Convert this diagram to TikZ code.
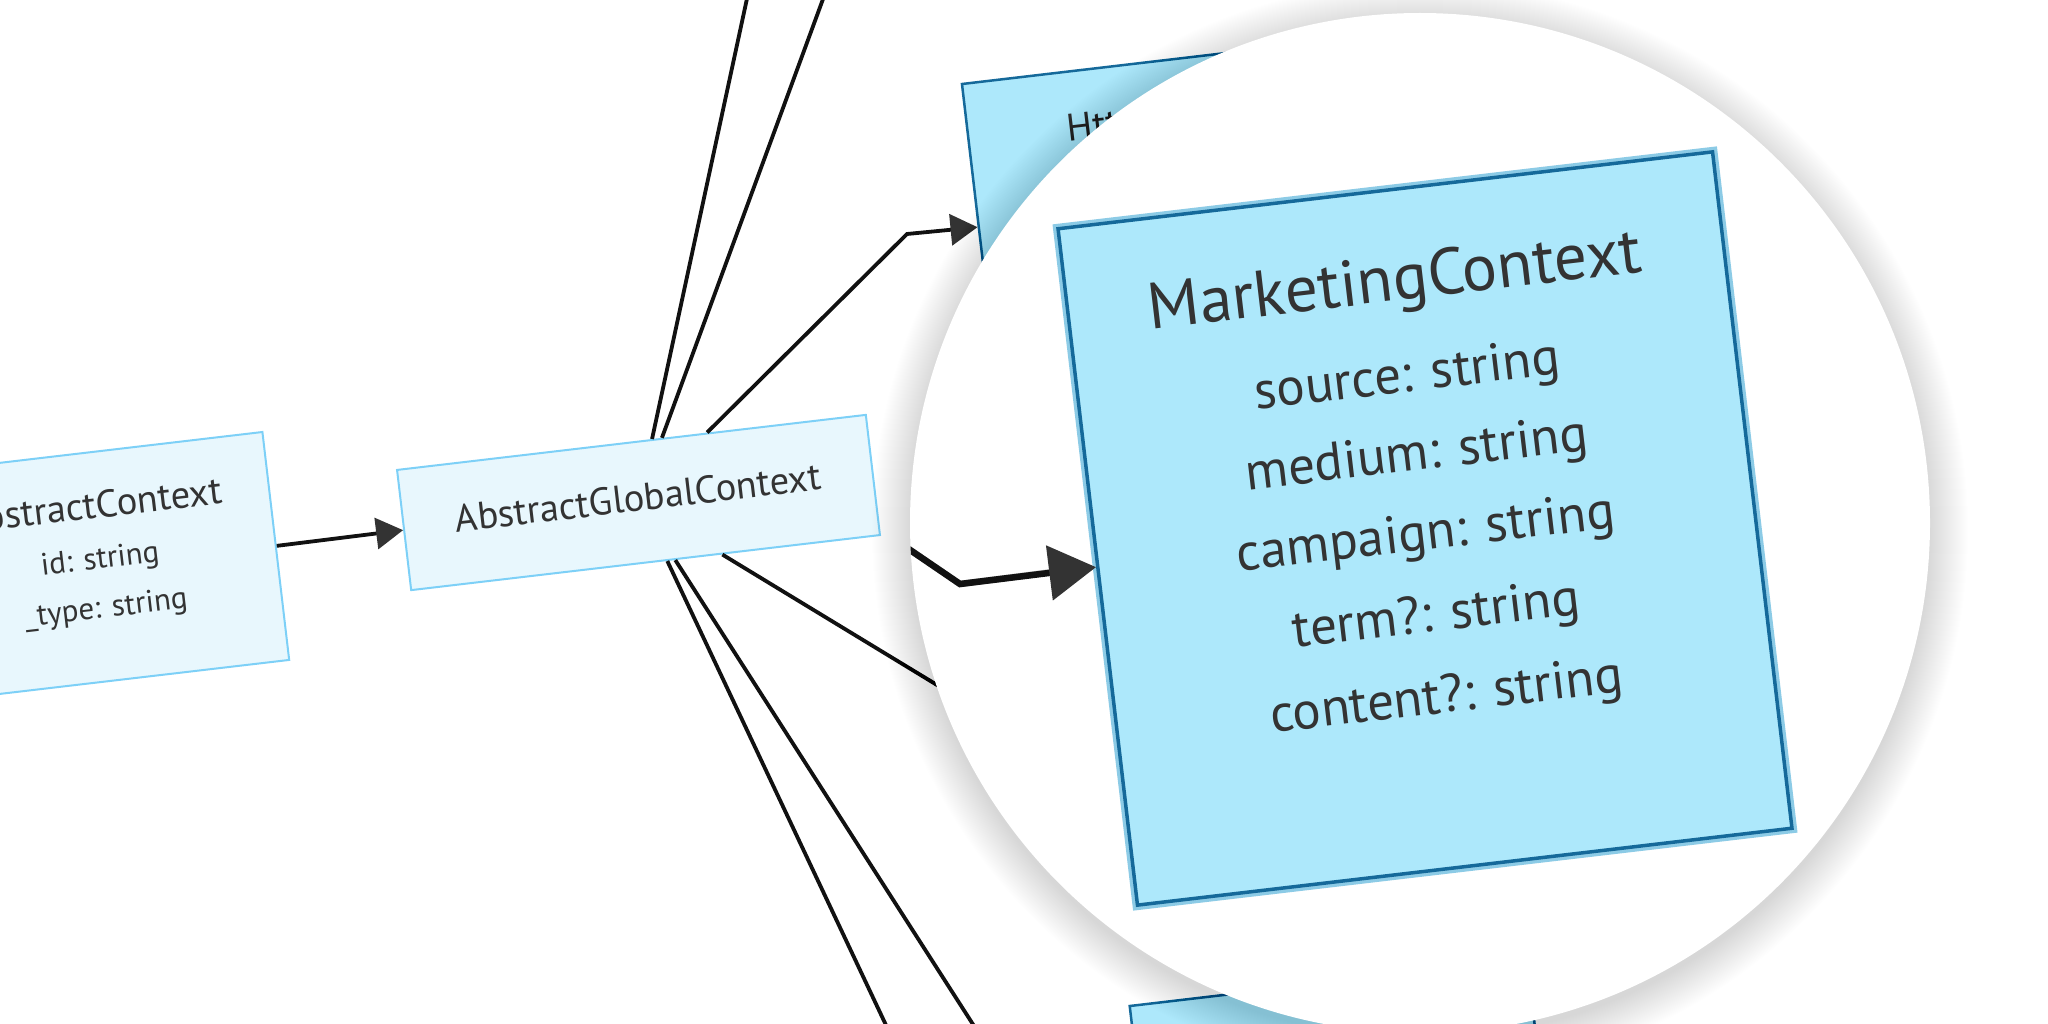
\documentclass[tikz,border=0pt]{standalone}
\usepackage{fontspec}
\setmainfont{PT Sans}
\usetikzlibrary{arrows.meta,calc}
\definecolor{txt}{HTML}{333333}
\definecolor{paleFill}{HTML}{E8F7FD}
\definecolor{paleLine}{HTML}{7DD0F7}
\definecolor{hiFill}{HTML}{ADE8FB}
\definecolor{hiLine}{HTML}{15699A}
\definecolor{hiGlow}{HTML}{8CCBE6}
\definecolor{tipgray}{HTML}{333333}
\definecolor{linecol}{HTML}{111111}
\tikzset{
  palebox/.style={draw=paleLine, fill=paleFill, line width=2pt, rectangle, inner sep=0pt},
  hibox/.style={draw=hiLine, fill=hiFill, line width=2.5pt, rectangle, inner sep=0pt},
  bighibox/.style={draw=hiLine, fill=hiFill, line width=3.5pt, rectangle, inner sep=0pt},
  ttl/.style={text=txt, inner sep=0pt, font=\fontsize{38.5}{46}\selectfont},
  fld/.style={text=txt, inner sep=0pt, font=\fontsize{31}{37}\selectfont},
  bigttl/.style={text=txt, inner sep=0pt, font=\fontsize{65.5}{78}\selectfont},
  bigfld/.style={text=txt, inner sep=0pt, font=\fontsize{53}{64}\selectfont},
  conn/.style={draw=linecol, line width=3.8pt},
  smalltip/.style={-{Triangle[length=27pt,width=31pt,color=tipgray]}},
  bigconn/.style={draw=linecol, line width=6.5pt, line join=miter},
  bigtip/.style={-{Triangle[length=47pt,width=54pt,color=tipgray]}},
}
\begin{document}
\begin{tikzpicture}[x=1pt,y=-1pt]
\useasboundingbox (0,0) rectangle (2048,1024);
\clip (0,0) rectangle (2048,1024);
\fill[white] (0,0) rectangle (2048,1024);

% ---------- base diagram ----------
\begin{scope}[shift={(101,566.5)}, rotate=6.7, transform shape]
  \node[palebox, minimum width=352pt, minimum height=229.5pt] (ac) at (0,0) {};
  \node[ttl] (actitle) at (-2,-62) {AbstractContext};
  \node[fld] (acid) at (0,-6) {id: string};
  \node[fld] (actype) at (0,43.5) {\_type: string};
\end{scope}

\begin{scope}[shift={(638.5,502.5)}, rotate=6.7, transform shape]
  \node[palebox, minimum width=472pt, minimum height=121pt] (agc) at (0,0) {};
  \node[ttl] (agctitle) at (0,-5) {AbstractGlobalContext};
\end{scope}

\begin{scope}[shift={(1177.4,203.7)}, rotate=6.7, transform shape]
  \node[hibox, minimum width=400pt, minimum height=288pt] (http) at (0,0) {};
  \node[ttl, anchor=west] (httptitle) at (-100.8,-88.1) {Htt};
\end{scope}

\begin{scope}[shift={(1340,1082)}, rotate=6.7, transform shape]
  \node[hibox, minimum width=400pt, minimum height=200pt] (lowbox) at (0,0) {};
\end{scope}

\coordinate (upA) at (751,-20);
\coordinate (upB) at (830,-20);
\coordinate (httpbend) at (907,234);
\coordinate (downA) at (893,1040);
\coordinate (downB) at (983,1040);
\coordinate (hiddenend) at (1100,784);

\draw[conn, smalltip] (ac.east) -- (agc.west);
\draw[conn] ($(agc.north west)!0.544!(agc.north east)$) -- (upA);
\draw[conn] ($(agc.north west)!0.565!(agc.north east)$) -- (upB);
\draw[conn, smalltip] ($(agc.north west)!0.661!(agc.north east)$) -- (httpbend) -- (http.west);
\draw[conn] ($(agc.south west)!0.546!(agc.south east)$) -- (downA);
\draw[conn] ($(agc.south west)!0.563!(agc.south east)$) -- (downB);
\draw[conn] ($(agc.south west)!0.663!(agc.south east)$) -- (hiddenend);

% ---------- magnifier ----------
\foreach \k in {1,...,40} {
  \pgfmathsetmacro{\rr}{508+\k}
  \fill[black, opacity=0.0032] (1420,530) circle[radius=\rr pt];
}
\fill[white] (1420,523) circle[radius=510pt];

\begin{scope}
  \clip (1420,523) circle[radius=510pt];
  \begin{scope}[shift={(1425,528.5)}, rotate=6.7, transform shape]
    \node[draw=hiGlow, line width=8pt, minimum width=661pt, minimum height=683pt, inner sep=0pt] (mkglow) at (0,0) {};
    \node[bighibox, minimum width=659pt, minimum height=681pt] (mk) at (0,0) {};
    \node[bigttl] (mktitle) at (-1,-246) {MarketingContext};
    \node[bigfld] (mksource) at (0.5,-151) {source: string};
    \node[bigfld] (mkmedium) at (0.4,-72) {medium: string};
    \node[bigfld] (mkcampaign) at (0.2,8) {campaign: string};
    \node[bigfld] (mkterm) at (1.2,90) {term?: string};
    \node[bigfld] (mkcontent) at (2,172) {content?: string};
  \end{scope}
  \coordinate (mkin) at (850,509);
  \coordinate (mkbend) at (960,584);
  \draw[draw=black!30, line width=6.5pt, shift={(1.5,2.5)}] (mkin) -- (mkbend) -- ($(mk.west)+(-44,5)$);
  \draw[bigconn, bigtip] (mkin) -- (mkbend) -- (mk.west);
\end{scope}
\end{tikzpicture}
\end{document}
